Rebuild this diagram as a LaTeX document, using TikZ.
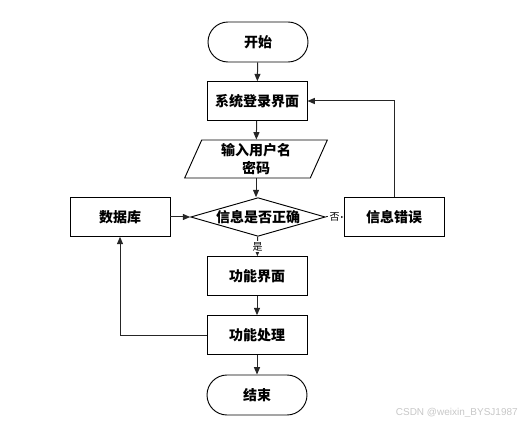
\documentclass[tikz,border=0pt]{standalone}
\usepackage{fontspec}
\newfontfamily\cjk{Noto Sans CJK SC}
\newfontfamily\wmfont{Liberation Sans}
\usetikzlibrary{shapes.geometric,shapes.misc,arrows.meta}
\tikzset{
  base/.style={draw=black,line width=0.7pt,font=\cjk\bfseries\fontsize{10.5}{12}\selectfont,inner sep=0pt},
  term/.style={base,rounded rectangle,minimum width=75pt,minimum height=30pt},
  proc/.style={base,rectangle,minimum width=75pt,minimum height=29pt},
  io/.style={base,trapezium,trapezium left angle=62,trapezium right angle=118,trapezium stretches body,minimum width=107pt,minimum height=28.5pt,align=center},
  decide/.style={base,diamond,aspect=3.46,minimum width=101pt,minimum height=29pt},
  flow/.style={draw=black!85,line width=0.75pt,-{Triangle[length=5.5pt,width=4.5pt]}},
  tag/.style={font=\cjk\fontsize{7.5}{8}\selectfont,inner sep=1pt}
}
\begin{document}
\begin{tikzpicture}[x=0.75pt,y=-0.75pt]
\useasboundingbox (0,0) rectangle (520,427);
\node[term] (start) at (258,42) {开始};
\node[proc] (login) at (257,101) {系统登录界面};
\node[io] (input) at (256,159) {输入用户名\\[2pt]密码};
\node[decide] (check) at (258,217) {信息是否正确};
\node[proc] (db) at (120,217) {数据库};
\node[proc] (err) at (394,217) {信息错误};
\node[proc] (menu) at (257,276) {功能界面};
\node[proc] (work) at (257,335) {功能处理};
\node[term] (stop) at (257,395) {结束};
%
\draw[flow] (start) -- (login);
\draw[flow] (login) -- (input);
\draw[flow] (input.south) -- (input.south|-check.north);
\draw[flow] (db) -- (check);
\draw[flow] (check) -- node[tag,fill=white]{否} (err);
\draw[flow] (check) -- node[tag,fill=white]{是} (menu);
\draw[flow] (menu) -- (work);
\draw[flow] (work) -- (stop);
\draw[flow] (err.north) |- (login.east);
\draw[flow] (work.west) -| (db.south);
%
\node[text=black!22,font=\wmfont\fontsize{7.5}{8}\selectfont,anchor=east,inner sep=0pt] (mark) at (518,413) {CSDN @weixin\_BYSJ1987};
\end{tikzpicture}
\end{document}
